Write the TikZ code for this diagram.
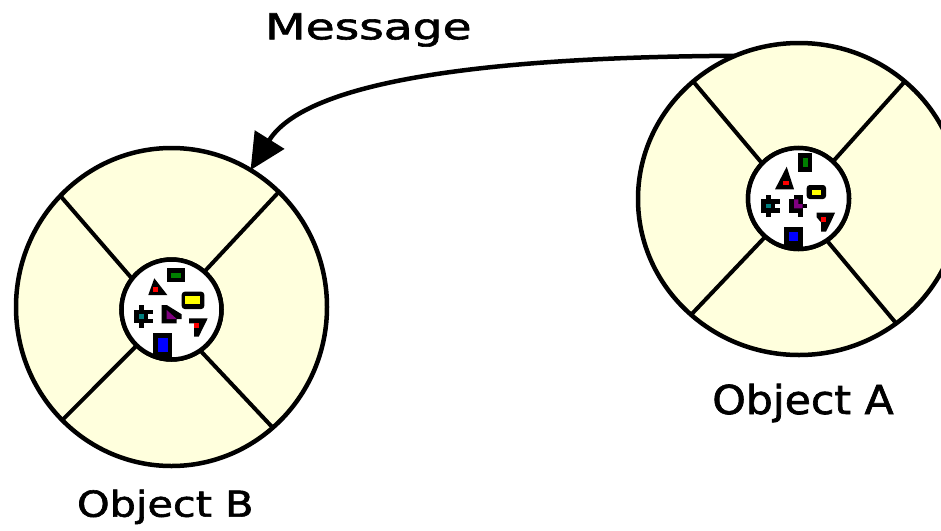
\documentclass[tikz,border=0pt]{standalone}
\usepackage{fontspec}
\setmainfont{DejaVu Sans}
\newfontfamily\lblfont[FakeBold=1.6]{DejaVu Sans}
\usetikzlibrary{shapes.geometric,arrows.meta}
\definecolor{ringfill}{RGB}{255,255,221}
\definecolor{iGreen}{RGB}{0,128,0}
\definecolor{iRed}{RGB}{255,0,0}
\definecolor{iYellow}{RGB}{255,255,0}
\definecolor{iTeal}{RGB}{0,128,128}
\definecolor{iPurple}{RGB}{128,0,128}
\definecolor{iBlue}{RGB}{0,0,255}
\begin{document}
\begin{tikzpicture}[x=1pt,y=-1pt,
  ring/.style={ellipse,draw=black,fill=ringfill,line width=4.5pt,inner sep=0pt,outer sep=0pt},
  core/.style={circle,draw=black,fill=white,line width=4.5pt,inner sep=0pt,outer sep=0pt},
  divider/.style={draw=black,line width=4pt},
  msgline/.style={draw=black,line width=4.5pt},
  lbl/.style={inner sep=0pt,outer sep=0pt,anchor=base,text=black,font=\lblfont}]
\useasboundingbox (0,0) rectangle (941,530);
\clip (0,0) rectangle (941,530);

% Object B
\node[ring,minimum width=311pt,minimum height=318pt] (B) at (171.5,307) {};
\node[core,minimum size=100pt] (Bi) at (171.5,309.5) {};
% Object A
\node[ring,minimum width=322pt,minimum height=312pt] (A) at (799,199) {};
\node[core,minimum size=101pt] (Ai) at (798.5,198.5) {};

% dividers B
\draw[divider] (Bi.142) -- (B.135);
\draw[divider] (Bi.49) -- (B.47);
\draw[divider] (Bi.226) -- (B.226);
\draw[divider] (Bi.305) -- (B.310);
% dividers A
\draw[divider] (Ai.136) -- (A.132);
\draw[divider] (Ai.47) -- (A.48);
\draw[divider] (Ai.229) -- (A.227);
\draw[divider] (Ai.304) -- (A.308);

% redraw cores over the dividers
\node[core,minimum size=100pt] at (Bi.center) {};
\node[core,minimum size=101pt] at (Ai.center) {};

% icons inside B
\begin{scope}[shift={(171.5,309.5)}]
  \fill[black] (-4.2,-41.2) rectangle (13.5,-27.8);
  \fill[iGreen] (-0.8,-36.2) rectangle (9.5,-31.2);
  \fill[black] (-17.2,-31.2) -- (-23.2,-14.5) -- (-4.2,-14.5) -- cycle;
  \fill[iRed] (-18.8,-22.8) rectangle (-13.2,-17.8);
  \fill[black,rounded corners=3pt] (10.2,-17.8) rectangle (32.8,-0.5);
  \fill[iYellow] (13.5,-13.8) rectangle (28.5,-5.2);
  \fill[black] (-37.5,0.5) rectangle (-23.2,13.8);
  \fill[black] (-32.5,-4.5) rectangle (-27.2,18.8);
  \fill[black] (-23.2,0.5) rectangle (-18.2,4.8);
  \fill[black] (-23.2,9.5) rectangle (-18.2,13.8);
  \fill[iTeal] (-32.5,4.8) rectangle (-27.2,9.5);
  \fill[black] (-9.8,-4.5) -- (-4.8,-4.5) -- (10.2,4.8) -- (10.2,9.5) -- (5.2,9.5) -- (5.2,13.8) -- (-9.8,13.8) -- cycle;
  \fill[iPurple] (-4.8,0.5) -- (-4.8,9.5) -- (5.2,9.5) -- cycle;
  \fill[black] (17.5,8.8) -- (36.2,8.8) -- (27.2,27.2) -- (22.5,27.2) -- (22.5,13.8) -- (17.5,13.8) -- cycle;
  \fill[iRed] (22.5,13.8) rectangle (27.5,18.8);
  \fill[black] (-18.2,23.8) rectangle (0.2,48.8);
  \fill[iBlue] (-13.8,28.2) rectangle (-3.8,42.8);
\end{scope}

% icons inside A
\begin{scope}[shift={(798.5,198.5)}]
  \fill[black] (-0.2,-45.2) rectangle (13.8,-26.8);
  \fill[iGreen] (4.2,-40.8) rectangle (9.2,-31.8);
  \fill[black] (-11.8,-31.8) -- (-23.5,-9.2) -- (-4.5,-9.2) -- cycle;
  \fill[iRed] (-15.2,-17.5) rectangle (-9.2,-13.2);
  \fill[black,rounded corners=3pt] (8.2,-13.5) rectangle (27.5,0.5);
  \fill[iYellow] (13.2,-8.5) rectangle (22.5,-3.5);
  \fill[black] (-37.8,0.8) rectangle (-23.5,14.2);
  \fill[black] (-32.8,-3.5) rectangle (-27.5,18.8);
  \fill[black] (-23.5,0.8) rectangle (-18.5,5.5);
  \fill[black] (-23.5,9.8) rectangle (-18.5,14.2);
  \fill[iTeal] (-32.8,5.5) rectangle (-27.5,9.8);
  \fill[black] (-4.5,-3.5) rectangle (4.2,0.8);
  \fill[black] (-9.2,0.8) rectangle (4.2,14.2);
  \fill[black] (4.2,5.5) rectangle (8.2,9.8);
  \fill[black] (-0.2,14.2) rectangle (4.2,18.8);
  \fill[iPurple] (-4.5,0.8) -- (-4.5,9.8) -- (4.2,9.8) -- (4.2,5.5) -- (-0.2,5.5) -- (-0.2,0.8) -- cycle;
  \fill[black] (18.2,14.2) -- (36.5,14.2) -- (32.2,23.8) -- (27.5,33.2) -- (22.5,33.2) -- (22.5,23.8) -- (18.2,18.8) -- cycle;
  \fill[iRed] (22.5,18.8) rectangle (27.5,23.8);
  \fill[black] (-14.5,28.8) rectangle (4.2,50.8);
  \fill[iBlue] (-9.5,33.2) rectangle (-0.2,42.5);
\end{scope}

% message arrow
\draw[msgline,-{Triangle[length=36pt,width=34pt]}] (A.114) .. controls (520,57) and (310,75) .. (B.60);

% labels
\node[lbl] (msg) at (368.3,39.3) {\scalebox{1.32}[1]{\fontsize{35.7}{40}\selectfont Message}};
\node[lbl] (labA) at (803,414) {\scalebox{1.07}[1]{\fontsize{39.8}{44}\selectfont Object A}};
\node[lbl] (labB) at (165.3,516.7) {\scalebox{1.16}[1]{\fontsize{35.7}{40}\selectfont Object B}};
\end{tikzpicture}
\end{document}
